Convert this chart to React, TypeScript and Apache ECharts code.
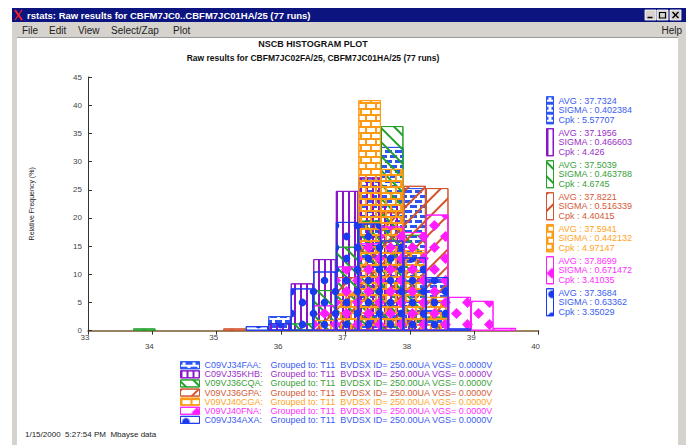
import React, { useEffect, useRef } from "react";
import * as echarts from "echarts";

// ---------- data ----------
const bins = ["33.00","33.35","33.70","34.05","34.40","34.75","35.10","35.45","35.80","36.15","36.50","36.85","37.20","37.55","37.90","38.25","38.60","38.95","39.30","39.65"];
const xTicks = [33, 34, 35, 36, 37, 38, 39, 40];

const seriesNames = ["C09VJ34FAA","C09VJ35KHB","V09VJ36CQA","V09VJ36GPA","V09VJ40CGA","V09VJ40FNA","C09VJ34AXA"];

const N = null;
const freqFAA = [N,N,N,N,N,N,N,N,2.6,N,N,N,27.0,32.6,25.3,9.2,N,N,N,N];
const freqKHB = [N,N,N,N,N,N,N,N,1.3,8.4,12.7,24.8,27.2,22.3,3.1,N,N,N,N,N];
const freqCQA = [N,N,0.4,N,N,N,N,N,N,1.3,7.2,14.9,19.5,36.3,17.0,2.5,N,N,N,N];
const freqGPA = [N,N,N,N,N,N,0.4,N,N,N,3.0,9.5,15.0,21.0,25.7,25.3,N,N,N,N];
const freqCGA = [N,N,N,N,N,N,N,N,N,N,1.9,6.7,40.9,28.7,14.3,6.0,N,N,N,N];
const freqFNA = [N,N,N,N,N,N,N,N,N,N,4.5,11.4,15.5,18.5,17.5,20.6,6.0,5.3,0.5,N];
const freqAXA = [N,N,N,N,N,N,N,0.8,1.3,7.5,10.5,19.3,19.0,16.0,13.0,9.5,0.4,N,N,N];
const seriesValues = [freqFAA, freqKHB, freqCQA, freqGPA, freqCGA, freqFNA, freqAXA];

const avgs = ["37.7324","37.1956","37.5039","37.8221","37.5941","37.8699","37.3684"];
const sigmas = ["0.402384","0.466603","0.463788","0.516339","0.442132","0.671472","0.63362"];
const cpks = ["5.57707","4.426","4.6745","4.40415","4.97147","3.41035","3.35029"];
const groupInfo = "Grouped to: T11  BVDSX ID= 250.00UA VGS= 0.0000V";

const windowTitle = "rstats: Raw results for CBFM7JC0..CBFM7JC01HA/25 (77 runs)";
const menuItems = ["File", "Edit", "View", "Select/Zap", "Plot"];
const chartTitle = "NSCB HISTOGRAM PLOT";
const chartSubtitle = "Raw results for CBFM7JC02FA/25, CBFM7JC01HA/25 (77 runs)";
const footer = "1/15/2000  5:27:54 PM  Mbayse data";
const yAxisName = "Relative Frequency (%)";

// ---------- styles ----------
const barColors = ["#2d55f2", "#8c14c8", "#22a02a", "#d4532f", "#ff9a14", "#ff1cff", "#1a3af0"];
const textColors = ["#3a5cf0", "#9a30c8", "#3aa03a", "#d45a38", "#ffa428", "#ff30ff", "#3a5cf0"];
const FONT = '"Liberation Sans", Arial, Helvetica, sans-serif';

const decals: any[] = [
  { symbol: "rect", symbolSize: 1, symbolKeepAspect: false, dashArrayX: [[7, 3], [2, 3, 5, 0]], dashArrayY: [3, 2], rotation: 0 },
  { symbol: "rect", symbolSize: 1, symbolKeepAspect: false, dashArrayX: [2, 4], dashArrayY: [10, 0], rotation: 0 },
  { symbol: "rect", symbolSize: 1, symbolKeepAspect: false, dashArrayX: [20, 0], dashArrayY: [2, 8], rotation: Math.PI / 4 },
  { symbol: "rect", symbolSize: 1, symbolKeepAspect: false, dashArrayX: [20, 0], dashArrayY: [2, 10], rotation: -Math.PI / 4 },
  { symbol: "rect", symbolSize: 1, symbolKeepAspect: false, dashArrayX: [[10, 0], [2, 8], [10, 0], [0, 5, 2, 3]], dashArrayY: [2, 0, 4, 0, 2, 0, 4, 0], rotation: 0 },
  { symbol: "diamond", symbolSize: 1, symbolKeepAspect: false, dashArrayX: [[11, 11], [0, 11, 11, 0]], dashArrayY: [11, 0], rotation: 0 },
  { symbol: "circle", symbolSize: 0.7, symbolKeepAspect: true, dashArrayX: [[0, 11, 11, 0], [11, 11]], dashArrayY: [11, 0], rotation: 0 },
].map((d, i) => ({ ...d, color: barColors[i], backgroundColor: "rgba(0,0,0,0)" }));

function buildOption() {
  const series = seriesNames.map((name, i) => ({
    name,
    type: "bar",
    xAxisIndex: 0,
    yAxisIndex: 0,
    data: seriesValues[i],
    barWidth: "100%",
    barGap: "-100%",
    itemStyle: {
      color: "rgba(0,0,0,0)",
      borderColor: barColors[i],
      borderWidth: 1,
      decal: decals[i],
    },
    emphasis: { disabled: true },
  }));

  const graphic: any[] = [
    // window frame
    { type: "rect", shape: { x: 12, y: 8, width: 674, height: 14 }, style: { fill: "#0c1480" } },
    { type: "rect", shape: { x: 12, y: 22, width: 674, height: 15 }, style: { fill: "#d6d3ce" } },
    { type: "rect", shape: { x: 12, y: 37, width: 5, height: 408 }, style: { fill: "#d6d3ce" } },
    { type: "rect", shape: { x: 678, y: 37, width: 8, height: 408 }, style: { fill: "#d6d3ce" } },
    { type: "line", shape: { x1: 17, y1: 37.5, x2: 678, y2: 37.5 }, style: { stroke: "#9a9a9a", lineWidth: 1 } },
    // red X logo
    { type: "line", shape: { x1: 15, y1: 10, x2: 22, y2: 20 }, style: { stroke: "#ff2020", lineWidth: 2 } },
    { type: "line", shape: { x1: 22, y1: 10, x2: 15, y2: 20 }, style: { stroke: "#ff2020", lineWidth: 1.2 } },
    { type: "text", x: 27, y: 15, style: { text: windowTitle, fill: "#ffffff", font: `bold 9.5px ${FONT}`, verticalAlign: "middle" } },
    // title bar buttons
    { type: "rect", shape: { x: 645, y: 10, width: 11, height: 10 }, style: { fill: "#d6d3ce", stroke: "#ffffff", lineWidth: 0.8 } },
    { type: "rect", shape: { x: 657, y: 10, width: 11, height: 10 }, style: { fill: "#d6d3ce", stroke: "#ffffff", lineWidth: 0.8 } },
    { type: "rect", shape: { x: 670, y: 10, width: 11, height: 10 }, style: { fill: "#d6d3ce", stroke: "#ffffff", lineWidth: 0.8 } },
    { type: "line", shape: { x1: 647.5, y1: 17.5, x2: 652.5, y2: 17.5 }, style: { stroke: "#000", lineWidth: 1.5 } },
    { type: "rect", shape: { x: 659.5, y: 12.5, width: 6, height: 5.5 }, style: { fill: "none", stroke: "#000", lineWidth: 1.2 } },
    { type: "line", shape: { x1: 672.5, y1: 12, x2: 678.5, y2: 18 }, style: { stroke: "#000", lineWidth: 1.4 } },
    { type: "line", shape: { x1: 678.5, y1: 12, x2: 672.5, y2: 18 }, style: { stroke: "#000", lineWidth: 1.4 } },
    // menu
    ...menuItems.map((m, i) => ({
      type: "text",
      x: [22, 49, 78, 111, 173][i],
      y: 30,
      style: { text: m, fill: "#222", font: `10px ${FONT}`, verticalAlign: "middle" },
    })),
    { type: "text", x: 682, y: 30, style: { text: "Help", fill: "#222", font: `10px ${FONT}`, verticalAlign: "middle", align: "right" } },
    // chart titles
    { type: "text", x: 313, y: 44, style: { text: chartTitle, fill: "#111", font: `bold 9px ${FONT}`, align: "center", verticalAlign: "middle" } },
    { type: "text", x: 313, y: 58, style: { text: chartSubtitle, fill: "#111", font: `bold 8.5px ${FONT}`, align: "center", verticalAlign: "middle" } },
    // footer
    { type: "text", x: 25, y: 434, style: { text: footer, fill: "#222", font: `8px ${FONT}`, verticalAlign: "middle" } },
  ];

  return {
    animation: false,
    backgroundColor: "#ffffff",
    textStyle: { fontFamily: FONT },
    grid: { left: 88, right: 150.4, top: 77, bottom: 114.3, containLabel: false },
    xAxis: [
      { type: "category", data: bins, show: false, boundaryGap: true },
      {
        type: "value",
        min: xTicks[0],
        max: xTicks[xTicks.length - 1],
        interval: 1,
        position: "bottom",
        axisLine: { show: true, onZero: false, lineStyle: { color: "#7a5a30", width: 1.5 } },
        axisTick: { show: true, length: 4, lineStyle: { color: "#333" } },
        splitLine: { show: false },
        axisLabel: {
          margin: 3,
          color: "#444",
          fontSize: 8,
          formatter: (v: number) => (v % 2 === 1 ? `{o|${v}}` : `{e|${v}}`),
          rich: {
            o: { fontSize: 8, color: "#444", padding: [0, 6, 0, 0] },
            e: { fontSize: 8, color: "#444", padding: [9, 6, 0, 0] },
          },
        },
      },
    ],
    yAxis: {
      type: "value",
      min: 0,
      max: 45,
      interval: 5,
      axisLine: { show: true, lineStyle: { color: "#333" } },
      axisTick: { show: true, inside: true, length: 4, lineStyle: { color: "#333" } },
      splitLine: { show: false },
      axisLabel: { color: "#444", fontSize: 8, margin: 6 },
      name: yAxisName,
      nameLocation: "middle",
      nameRotate: 90,
      nameGap: 53,
      nameTextStyle: { fontSize: 7, color: "#222" },
    },
    legend: [
      {
        orient: "vertical",
        left: 546,
        top: 96,
        padding: 0,
        itemWidth: 7,
        itemHeight: 27,
        itemGap: 3.5,
        icon: "rect",
        selectedMode: false,
        itemStyle: { borderWidth: 1 },
        data: seriesNames.map((n, i) => ({ name: n, textStyle: { color: textColors[i] } })),
        formatter: (name: string) => {
          const i = seriesNames.indexOf(name);
          return `AVG : ${avgs[i]}\nSIGMA : ${sigmas[i]}\nCpk : ${cpks[i]}`;
        },
        textStyle: { fontSize: 9, lineHeight: 9.5, fontFamily: FONT },
      },
      {
        orient: "vertical",
        left: 180,
        top: 360.7,
        padding: 0,
        itemWidth: 19,
        itemHeight: 7,
        itemGap: 0,
        icon: "rect",
        selectedMode: false,
        itemStyle: { borderWidth: 1 },
        data: seriesNames.map((n, i) => ({ name: n, textStyle: { color: textColors[i] } })),
        formatter: (name: string) => `{n|${name}:}${groupInfo}`,
        textStyle: {
          fontSize: 9,
          lineHeight: 9.1,
          fontFamily: FONT,
          rich: { n: { width: 66, fontSize: 9, lineHeight: 9.1 } },
        },
      },
    ],
    graphic,
    series,
  };
}

export default function App() {
  const ref = useRef<HTMLDivElement>(null);
  useEffect(() => {
    if (!ref.current) return;
    const chart = echarts.init(ref.current, null, { renderer: "svg" });
    chart.setOption(buildOption() as any);
    return () => chart.dispose();
  }, []);
  return (
    <div
      ref={ref}
      style={{ position: "fixed", left: 0, top: 0, width: 689, height: 445, background: "#fff" }}
    />
  );
}
